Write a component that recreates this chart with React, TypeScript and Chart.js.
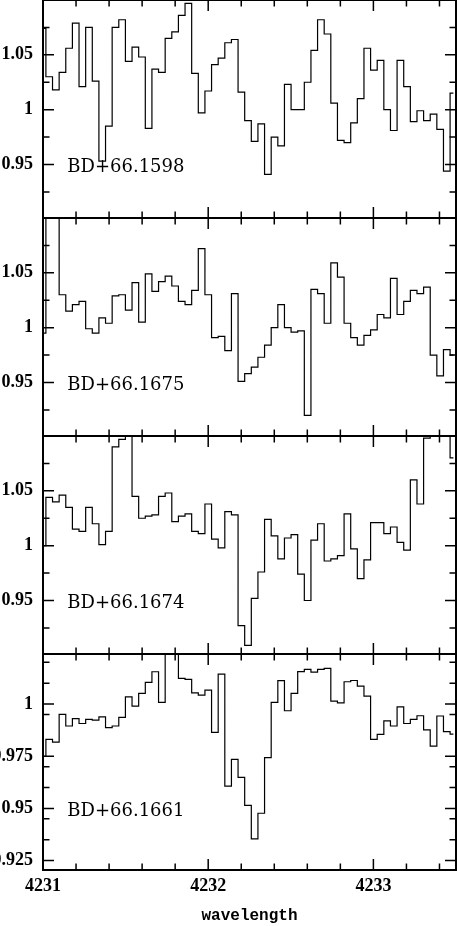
import React, { useEffect, useRef } from 'react';
import { Chart, registerables } from 'chart.js';

Chart.register(...registerables);

// ---- data -------------------------------------------------------------
// sampling grid of the spectra (bin centres, Angstrom)
const X_START = 4230.9975;
const X_STEP = 0.04011;
const N_BINS = 63;

const X_MIN = 4231;
const X_MAX = 4233.5;
const X_LABELS = [4231, 4232, 4233];
const X_MINOR = [4231.2, 4231.4, 4231.6, 4231.8, 4232.2, 4232.4, 4232.6, 4232.8, 4233.2, 4233.4];

const STARS = ['BD+66.1598', 'BD+66.1675', 'BD+66.1674', 'BD+66.1661'];

const FLUX_BD661598 = [
  1.074, 1.030, 1.018, 1.034, 1.056, 1.079, 1.021, 1.075, 1.026, 0.953,
  0.985, 1.075, 1.082, 1.044, 1.057, 1.048, 0.983, 1.037, 1.034, 1.065,
  1.071, 1.086, 1.097, 1.033, 0.997, 1.017, 1.041, 1.047, 1.061, 1.064,
  1.016, 0.990, 0.971, 0.987, 0.941, 0.975, 0.967, 1.023, 1.000, 1.000,
  1.025, 1.054, 1.082, 1.069, 1.006, 0.972, 0.970, 0.988, 1.010, 1.056,
  1.036, 1.045, 1.000, 0.981, 1.045, 1.021, 0.989, 0.999, 0.990, 0.996,
  0.982, 0.944, 1.015,
];

const FLUX_BD661675 = [
  0.995, 1.120, 1.120, 1.030, 1.015, 1.021, 1.024, 0.999, 0.995, 1.009,
  1.004, 1.029, 1.030, 1.016, 1.041, 1.005, 1.049, 1.033, 1.042, 1.047,
  1.038, 1.024, 1.021, 1.034, 1.072, 1.030, 0.991, 0.992, 0.979, 1.031,
  0.951, 0.958, 0.964, 0.973, 0.984, 1.000, 1.021, 1.000, 0.996, 0.997,
  0.920, 1.035, 1.031, 1.004, 1.059, 1.046, 1.004, 0.991, 0.984, 0.993,
  0.998, 1.012, 1.009, 1.045, 1.012, 1.024, 1.034, 1.031, 1.037, 0.975,
  0.956, 0.980, 0.975,
];

const FLUX_BD661674 = [
  1.000, 1.044, 1.040, 1.046, 1.035, 1.015, 1.013, 1.035, 1.020, 1.001,
  1.013, 1.090, 1.097, 1.110, 1.045, 1.025, 1.027, 1.028, 1.045, 1.048,
  1.022, 1.027, 1.029, 1.013, 1.011, 1.038, 1.006, 0.998, 1.031, 1.028,
  0.927, 0.909, 0.952, 0.976, 1.024, 1.009, 0.988, 1.007, 1.010, 0.974,
  0.950, 1.005, 1.020, 0.986, 0.988, 0.991, 1.029, 0.997, 0.970, 0.987,
  1.021, 1.021, 1.011, 1.017, 1.003, 0.996, 1.060, 1.038, 1.098, 1.120,
  1.120, 1.120, 1.080,
];

const FLUX_BD661661 = [
  0.9750, 0.9831, 0.9818, 0.9951, 0.9895, 0.9930, 0.9907, 0.9927, 0.9923, 0.9939,
  0.9887, 0.9895, 0.9936, 1.0035, 0.9990, 1.0051, 1.0104, 1.0155, 1.0008, 1.0300,
  1.0300, 1.0123, 1.0118, 1.0054, 1.0043, 1.0067, 0.9864, 1.0144, 0.9607, 0.9735,
  0.9649, 0.9515, 0.9354, 0.9477, 0.9743, 1.0008, 1.0112, 0.9968, 1.0051, 1.0156,
  1.0166, 1.0153, 1.0166, 1.0171, 1.0014, 1.0006, 1.0107, 1.0113, 1.0086, 1.0038,
  0.9831, 0.9855, 0.9920, 0.9895, 0.9987, 0.9907, 0.9927, 0.9944, 0.9876, 0.9799,
  0.9943, 0.9868, 0.9856,
];

const Y_RANGE_UPPER = [0.9012, 1.1];
const Y_MAJOR_UPPER = [0.95, 1, 1.05];
const Y_MINOR_UPPER = [0.925, 0.975, 1.025, 1.075];

const Y_RANGE_LOWER = [0.9205, 1.024];
const Y_MAJOR_LOWER = [0.925, 0.95, 0.975, 1];
const Y_MINOR_LOWER = [0.935, 0.945, 0.96, 0.97, 0.995, 1.01, 1.02];

const LABEL_X = 4231.147;
const LABEL_Y = [0.943, 0.943, 0.943, 0.9464];

const WAVELENGTH = Array.from({ length: N_BINS }, (_, i) => +(X_START + X_STEP * i).toFixed(4));

// ---- layout -----------------------------------------------------------
const PAGE_W = 457;
const PAGE_H = 926;
const FRAMES = [0, 218, 436, 654, 870]; // panel frame lines (px)
const PAD = 4;
const X_AXIS_H = PAGE_H - FRAMES[4];
const MAJOR_LEN = 11;
const MINOR_LEN = 6.5;

type Panel = {
  name: string;
  flux: number[];
  range: number[];
  major: number[];
  minor: number[];
  labelY: number;
  top: number;
  bottom: number;
  last: boolean;
};

const PANELS: Panel[] = [FLUX_BD661598, FLUX_BD661675, FLUX_BD661674, FLUX_BD661661].map((flux, i) => ({
  name: STARS[i],
  flux,
  range: i === 3 ? Y_RANGE_LOWER : Y_RANGE_UPPER,
  major: i === 3 ? Y_MAJOR_LOWER : Y_MAJOR_UPPER,
  minor: i === 3 ? Y_MINOR_LOWER : Y_MINOR_UPPER,
  labelY: LABEL_Y[i],
  top: FRAMES[i],
  bottom: FRAMES[i + 1],
  last: i === 3,
}));

const TICK_FONT = { family: '"Liberation Serif", serif', weight: 'bold' as const, size: 18 };

function framePlugin(p: Panel) {
  return {
    id: 'frameTicks',
    afterDraw(chart: any) {
      const { ctx, chartArea: a, scales } = chart;
      const xs = scales.x;
      const ys = scales.y;
      ctx.save();
      ctx.strokeStyle = '#000';
      ctx.lineCap = 'butt';
      ctx.lineWidth = 1.5;
      ctx.beginPath();
      const seg = (x0: number, y0: number, x1: number, y1: number) => {
        ctx.moveTo(x0, y0);
        ctx.lineTo(x1, y1);
      };
      const xt = (vals: number[], len: number) => {
        for (const v of vals) {
          const x = xs.getPixelForValue(v);
          seg(x, a.top, x, a.top + len);
          seg(x, a.bottom, x, a.bottom - len);
        }
      };
      const yt = (vals: number[], len: number) => {
        for (const v of vals) {
          const y = ys.getPixelForValue(v);
          seg(a.left, y, a.left + len, y);
          seg(a.right, y, a.right - len, y);
        }
      };
      xt(X_LABELS, MAJOR_LEN);
      xt(X_MINOR, MINOR_LEN);
      yt(p.major, MAJOR_LEN);
      yt(p.minor, MINOR_LEN);
      ctx.stroke();
      ctx.lineWidth = 2;
      ctx.strokeRect(a.left, a.top, a.right - a.left, a.bottom - a.top);
      ctx.fillStyle = '#000';
      ctx.font = '18px "DejaVu Serif", serif';
      ctx.textAlign = 'left';
      ctx.textBaseline = 'alphabetic';
      ctx.fillText(p.name, xs.getPixelForValue(LABEL_X), ys.getPixelForValue(p.labelY));
      ctx.restore();
    },
  };
}

function PanelChart({ p }: { p: Panel }) {
  const ref = useRef<HTMLCanvasElement>(null);
  const canvasTop = p.top - PAD;
  const canvasH = p.last ? PAGE_H - canvasTop : p.bottom - p.top + 2 * PAD;

  useEffect(() => {
    if (!ref.current) return;
    const chart = new Chart(ref.current, {
      type: 'line',
      data: {
        datasets: [
          {
            data: WAVELENGTH.map((x, i) => ({ x, y: p.flux[i] })),
            stepped: 'middle',
            borderColor: '#000',
            borderWidth: 1.2,
            pointRadius: 0,
            fill: false,
          },
        ],
      },
      options: {
        animation: false,
        responsive: false,
        maintainAspectRatio: false,
        events: [],
        layout: { padding: { top: PAD, bottom: p.last ? 0 : PAD, left: 0, right: 1 } },
        plugins: { legend: { display: false }, tooltip: { enabled: false } },
        scales: {
          x: {
            type: 'linear',
            min: X_MIN,
            max: X_MAX,
            display: p.last,
            grid: { display: false, drawTicks: false },
            border: { display: false },
            afterBuildTicks: (s: any) => {
              s.ticks = X_LABELS.map((v) => ({ value: v }));
            },
            afterFit: (s: any) => {
              if (p.last) s.height = X_AXIS_H;
              s.paddingLeft = 0;
              s.paddingRight = 0;
              s.paddingTop = 0;
              s.paddingBottom = 0;
            },
            ticks: {
              font: TICK_FONT,
              color: '#000',
              padding: 6,
              maxRotation: 0,
              autoSkip: false,
              callback: (v: any) => String(v),
            },
            title: {
              display: true,
              text: 'wavelength',
              color: '#000',
              font: { family: '"Liberation Mono", monospace', weight: 'bold', size: 16 },
              padding: 0,
            },
          },
          y: {
            type: 'linear',
            min: p.range[0],
            max: p.range[1],
            grid: { display: false, drawTicks: false },
            border: { display: false },
            afterBuildTicks: (s: any) => {
              s.ticks = p.major.map((v) => ({ value: v }));
            },
            afterFit: (s: any) => {
              s.width = 43;
              s.paddingLeft = 0;
              s.paddingRight = 0;
              s.paddingTop = 0;
              s.paddingBottom = 0;
            },
            ticks: {
              font: TICK_FONT,
              color: '#000',
              padding: 10,
              autoSkip: false,
              callback: (v: any) => String(Number(v)),
            },
          },
        },
      } as any,
      plugins: [framePlugin(p)],
    });
    return () => chart.destroy();
  }, []);

  return (
    <canvas
      ref={ref}
      width={PAGE_W}
      height={canvasH}
      style={{ position: 'absolute', left: 0, top: canvasTop, width: PAGE_W, height: canvasH, display: 'block' }}
    />
  );
}

export default function App() {
  useEffect(() => {
    document.body.style.margin = '0';
    document.body.style.background = '#fff';
  }, []);
  return (
    <div style={{ position: 'absolute', left: 0, top: 0, width: PAGE_W, height: PAGE_H, overflow: 'hidden', background: '#fff' }}>
      {PANELS.map((p) => (
        <PanelChart key={p.name} p={p} />
      ))}
    </div>
  );
}
